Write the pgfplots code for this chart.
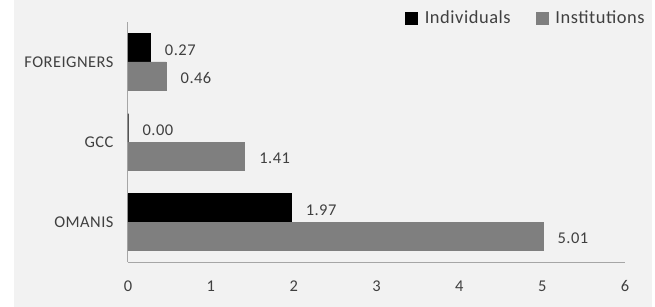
\documentclass[border=0pt]{standalone}
\usepackage{pgfplots}
\pgfplotsset{compat=1.18}
\usepackage{fontspec}
\setmainfont{Carlito}[LetterSpace=3]
\definecolor{bg}{HTML}{F2F2F2}
\definecolor{txt}{HTML}{404040}
\definecolor{inst}{HTML}{7F7F7F}
\definecolor{axl}{HTML}{A6A6A6}
\begin{document}
\begin{tikzpicture}
\useasboundingbox (-128bp,-45bp) rectangle (527bp,262bp);
\fill[bg] (-114bp,-45bp) rectangle (524bp,262bp);
\begin{axis}[
  at={(0bp,0bp)}, anchor=south west,
  scale only axis, width=497bp, height=240bp,
  xbar, bar width=28.5bp,
  xmin=0, xmax=6, ymin=-0.5, ymax=2.5,
  xtick={0,1,2,3,4,5,6}, ytick={0,1,2},
  yticklabels={OMANIS,GCC,FOREIGNERS},
  axis x line*=bottom, axis y line*=left,
  axis line style={axl, line width=1bp, -},
  major tick length=0pt,
  tick label style={font=\fontsize{16.5}{19}\selectfont, text=txt},
  /pgf/number format/assume math mode=true,
  xticklabel style={yshift=-15bp},
  yticklabel style={xshift=-11bp},
  nodes near coords,
  nodes near coords style={font=\fontsize{16.5}{19}\selectfont, text=txt, anchor=west, xshift=11bp, yshift=-2bp,
    /pgf/number format/.cd, fixed, fixed zerofill, precision=2, assume math mode=true},
  legend style={at={(277/497,244/240)}, anchor=west, draw=none, fill=none,
    font=\fontsize{18.5}{21}\selectfont, text=txt, inner sep=0pt,
    /tikz/every odd column/.append style={column sep=5bp},
    /tikz/every even column/.append style={column sep=23bp}},
  legend columns=2,
  legend image code/.code={\fill[#1] (0bp,-6bp) rectangle (12bp,6bp);},
]
\addplot[fill=black, draw=black, line width=0.6bp, bar shift=14.25bp]
  coordinates {(1.97,0) (0.00,1) (0.27,2)};
\addplot[fill=inst, draw=inst, line width=0.6bp, bar shift=-14.25bp]
  coordinates {(5.01,0) (1.41,1) (0.46,2)};
\legend{Individuals, Institutions}
\end{axis}
\end{tikzpicture}
\end{document}
